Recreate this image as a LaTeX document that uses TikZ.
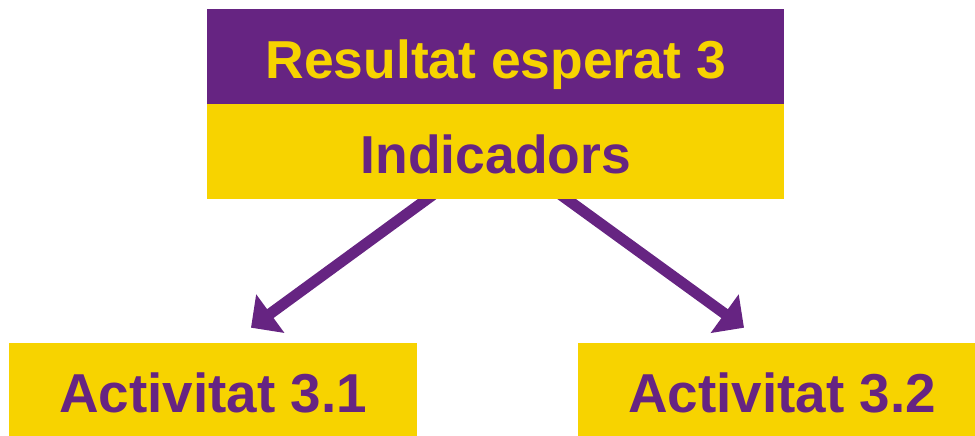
\documentclass[tikz,border=0pt]{standalone}
\usepackage{fontspec}
\setmainfont{Liberation Sans}
\usepackage{xcolor}
\usetikzlibrary{arrows.meta,backgrounds}

\definecolor{lila}{RGB}{102,36,130}
\definecolor{groc}{RGB}{247,211,0}

\begin{document}
\begin{tikzpicture}[x=0.025cm, y=-0.025cm,
		caixa/.style = {inner sep=0pt, text height=31.5pt, text depth=0pt, font=\fontsize{38}{40}\selectfont\bfseries},
		resultat/.style = {caixa, fill=lila, text=groc, minimum width=14.41cm, minimum height=2.375cm},
		indic/.style = {caixa, fill=groc, text=lila, minimum width=14.41cm, minimum height=2.375cm},
		activ/.style = {caixa, fill=groc, text=lila, minimum width=10.2cm, minimum height=2.375cm, font=\fontsize{39}{41}\selectfont\bfseries},
		fletxa/.style = {draw=lila, line width=7.8pt, -{Triangle[length=17pt,width=33pt]}}]
		\clip (0,0) rectangle (975,435);
		
		\node[resultat] (res) at (495.75,56.5) {Resultat esperat 3};
		\node[indic] (ind) at (495.75,151.5) {Indicadors};
		
		\node[activ] (act1) at (213,390.5) {Activitat 3.1};
		\node[activ] (act2) at (782,390.5) {Activitat 3.2};
		
		% fletxes sota les caixes
		\begin{scope}[on background layer]
			\draw[fletxa] ([xshift=-1.45cm,yshift=0.2cm]ind.south) -- ([xshift=0.95cm,yshift=0.375cm]act1.north);
			\draw[fletxa] ([xshift=1.505cm,yshift=0.2cm]ind.south) -- ([xshift=-0.95cm,yshift=0.375cm]act2.north);
		\end{scope}
	\end{tikzpicture}
\end{document}
